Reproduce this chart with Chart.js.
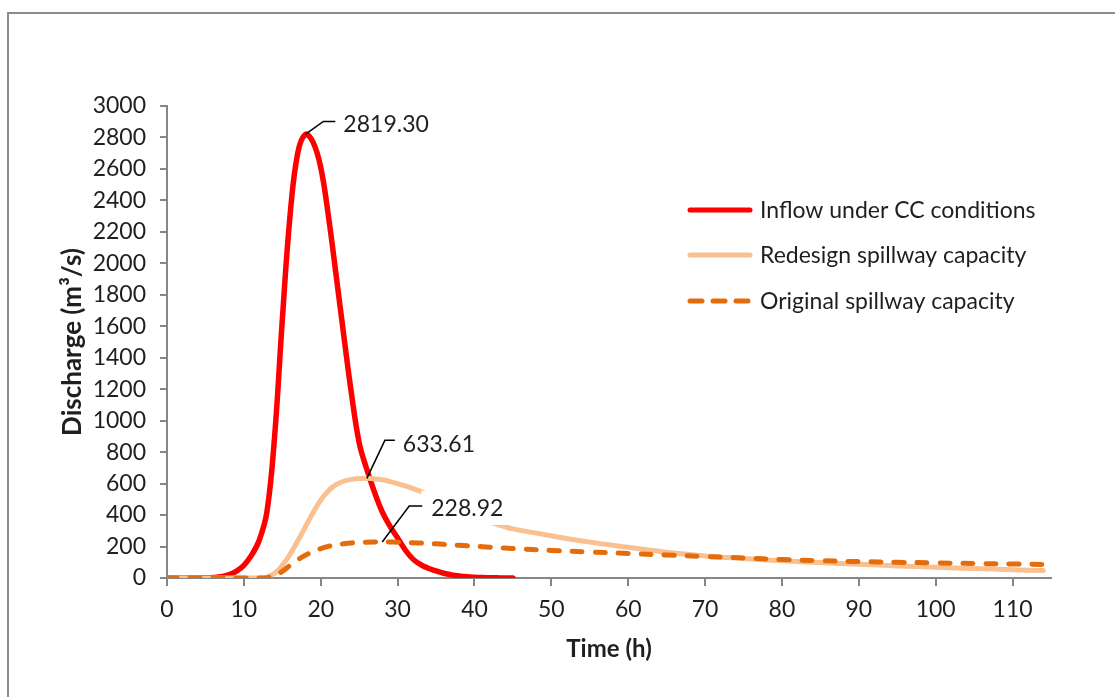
<!DOCTYPE html>
<html>
<head>
<meta charset="utf-8">
<script src="https://cdn.jsdelivr.net/npm/chart.js@4.4.1/dist/chart.umd.min.js"></script>
<style>
    html, body { margin: 0; padding: 0; background: #ffffff; }
    #wrap { width: 1115px; height: 697px; }
</style>
</head>
<body>
<div id="wrap"><canvas id="hydrographChart" width="1115" height="697"></canvas></div>
<script>
// time axis (h): hourly to 45, then every 5 h
const hours = [
    0, 1, 2, 3, 4, 5, 6, 7, 8, 9, 10, 11, 12, 13, 14, 15, 16, 17, 18, 19,
    20, 21, 22, 23, 24, 25, 26, 27, 28, 29, 30, 31, 32, 33, 34, 35, 36, 37, 38, 39,
    40, 41, 42, 43, 44, 45, 50, 55, 60, 65, 70, 75, 80, 85, 90, 95, 100, 105, 110, 114
];

const inflowCC = [
    0, 0, 0, 0, 0, 1, 3, 8, 20, 42, 80, 145, 240, 420, 900, 1640, 2300, 2700, 2819.3, 2770,
    2610, 2300, 1925, 1540, 1170, 860, 690, 545, 420, 330, 255, 178, 120, 85, 62, 45, 30, 20, 13, 8,
    5, 3, 2, 1, 0, 0
];

const redesignCapacity = [
    0, 0, 0, 0, 0, 0, 0, 0, 0, 0, 0, 0, 0, 5, 30, 80, 150, 235, 325, 415,
    495, 555, 593, 615, 627, 632, 633.61, 631, 624, 613, 600, 585, 568, 550, 528, 505, 482, 459, 437, 415,
    390, 372, 355, 340, 325, 312, 268, 228, 195, 163, 140, 124, 110, 98, 87, 77, 68, 60, 53, 47
];

const originalCapacity = [
    0, 0, 0, 0, 0, 0, 0, 0, 0, 0, 0, 0, 0, 2, 15, 42, 80, 115, 145, 168,
    187, 201, 211, 218, 223, 226, 228, 228.7, 228.92, 228.5, 227.5, 226, 224, 222, 219.5, 217, 214, 211, 208, 205,
    202, 199, 196, 193, 190, 187, 175, 165, 156, 146, 137, 127, 117, 110, 104, 100, 96, 92, 89, 86
];

const seriesNames = ['Inflow under CC conditions', 'Redesign spillway capacity', 'Original spillway capacity'];
const xTicks = [0, 10, 20, 30, 40, 50, 60, 70, 80, 90, 100, 110];
const yTicks = [0, 200, 400, 600, 800, 1000, 1200, 1400, 1600, 1800, 2000, 2200, 2400, 2600, 2800, 3000];

// peak data labels
const peakSeries = [0, 1, 2];
const peakHours = [18, 26, 28];
const peakTexts = ['2819.30', '633.61', '228.92'];

const FONT = 'Lato, "Open Sans", sans-serif';
const TEXT = '#1f1f1f';
const AXIS = '#868686';

function toPoints(values) {
    return values.map(function (v, i) {
        return { x: hours[i], y: v };
    });
}

const seriesValues = [inflowCC, redesignCapacity, originalCapacity];

// grey outer frame
const framePlugin = {
    id: 'frame',
    beforeDraw: function (chart) {
        const ctx = chart.ctx;
        ctx.save();
        ctx.fillStyle = '#ffffff';
        ctx.fillRect(0, 0, chart.width, chart.height);
        ctx.strokeStyle = '#8c8c8c';
        ctx.lineWidth = 2;
        ctx.strokeRect(8, 13, 1300, 900);
        ctx.restore();
    }
};

// legend drawn inside the plot area
const insideLegendPlugin = {
    id: 'insideLegend',
    afterDraw: function (chart) {
        const ctx = chart.ctx;
        const x0 = 688, x1 = 752, textX = 760;
        const rowY = [210, 255, 301];
        ctx.save();
        chart.data.datasets.forEach(function (ds, i) {
            ctx.beginPath();
            ctx.strokeStyle = ds.borderColor;
            ctx.lineWidth = 5;
            ctx.lineCap = 'round';
            ctx.setLineDash(ds.borderDash ? [12, 11] : []);
            ctx.moveTo(x0 + 2, rowY[i]);
            ctx.lineTo(x1 - 2, rowY[i]);
            ctx.stroke();
            ctx.setLineDash([]);
            ctx.fillStyle = TEXT;
            ctx.font = '23px ' + FONT;
            ctx.textBaseline = 'middle';
            ctx.textAlign = 'left';
            ctx.fillText(ds.label, textX, rowY[i] + 1);
        });
        ctx.restore();
    }
};

// peak value labels with leader lines
const peakLabelPlugin = {
    id: 'peakLabels',
    afterDatasetsDraw: function (chart) {
        const ctx = chart.ctx;
        const xs = chart.scales.x;
        const ys = chart.scales.y;
        // [diagonal end dx, dy, elbow end dx, text left dx, text centre dy]
        const leader = [
            [18, -13, 30, 38, -11],
            [18, -38, 28, 36, -35],
            [27, -36, 40, 49, -34]
        ];
        ctx.save();
        ctx.font = '23px ' + FONT;
        ctx.textBaseline = 'middle';
        ctx.textAlign = 'left';
        peakTexts.forEach(function (text, i) {
            const idx = hours.indexOf(peakHours[i]);
            const px = xs.getPixelForValue(peakHours[i]);
            const py = ys.getPixelForValue(seriesValues[peakSeries[i]][idx]);
            const L = leader[i];
            const tw = ctx.measureText(text).width;
            // white label box (hides the line behind the text)
            ctx.fillStyle = '#ffffff';
            ctx.fillRect(px + L[3] - 10, py + L[4] - 17, tw + 14, 34);
            ctx.beginPath();
            ctx.strokeStyle = '#000000';
            ctx.lineWidth = 1.5;
            ctx.moveTo(px, py);
            ctx.lineTo(px + L[0], py + L[1]);
            ctx.lineTo(px + L[2], py + L[1]);
            ctx.stroke();
            ctx.fillStyle = TEXT;
            ctx.fillText(text, px + L[3], py + L[4] + 1);
        });
        ctx.restore();
    }
};

const ctx = document.getElementById('hydrographChart').getContext('2d');

new Chart(ctx, {
    type: 'line',
    data: {
        datasets: [
            {
                label: seriesNames[0],
                data: toPoints(inflowCC),
                borderColor: '#ff0000',
                borderWidth: 5.5,
                pointRadius: 0,
                tension: 0.4,
                borderCapStyle: 'round',
                order: 3
            },
            {
                label: seriesNames[1],
                data: toPoints(redesignCapacity),
                borderColor: '#fac090',
                borderWidth: 5,
                pointRadius: 0,
                tension: 0.4,
                borderCapStyle: 'round',
                order: 2
            },
            {
                label: seriesNames[2],
                data: toPoints(originalCapacity),
                borderColor: '#e46c0a',
                borderWidth: 5,
                borderDash: [10, 13],
                borderCapStyle: 'round',
                pointRadius: 0,
                tension: 0.4,
                order: 1
            }
        ]
    },
    options: {
        responsive: false,
        animation: false,
        layout: {
            padding: { left: 8, top: 106, right: 64, bottom: 0 }
        },
        plugins: {
            legend: { display: false },
            tooltip: { enabled: false }
        },
        scales: {
            x: {
                type: 'linear',
                min: 0,
                max: 115,
                afterBuildTicks: function (scale) {
                    scale.ticks = xTicks.map(function (v) { return { value: v }; });
                },
                afterFit: function (scale) {
                    scale.height = 697 - 578;
                },
                grid: {
                    drawOnChartArea: false,
                    tickLength: 8,
                    color: AXIS,
                    lineWidth: 2
                },
                border: { color: AXIS, width: 2 },
                ticks: {
                    color: TEXT,
                    padding: 10,
                    maxRotation: 0,
                    font: { family: FONT, size: 23 },
                    callback: function (value) { return String(value); }
                },
                title: {
                    display: true,
                    text: 'Time (h)',
                    color: TEXT,
                    font: { family: FONT, size: 24, weight: 'bold' },
                    padding: { top: 0, bottom: 33 }
                }
            },
            y: {
                min: 0,
                max: 3000,
                afterBuildTicks: function (scale) {
                    scale.ticks = yTicks.map(function (v) { return { value: v }; });
                },
                afterFit: function (scale) {
                    scale.width = 167 - 8;
                },
                grid: {
                    drawOnChartArea: false,
                    tickLength: 7,
                    color: AXIS,
                    lineWidth: 2
                },
                border: { color: AXIS, width: 2 },
                ticks: {
                    color: TEXT,
                    padding: 14,
                    font: { family: FONT, size: 23 },
                    callback: function (value) { return String(value); }
                },
                title: {
                    display: true,
                    text: 'Discharge (m³/s)',
                    color: TEXT,
                    font: { family: FONT, size: 26, weight: 'bold' },
                    padding: { top: 49, bottom: 0 }
                }
            }
        }
    },
    plugins: [framePlugin, insideLegendPlugin, peakLabelPlugin]
});
</script>
</body>
</html>
